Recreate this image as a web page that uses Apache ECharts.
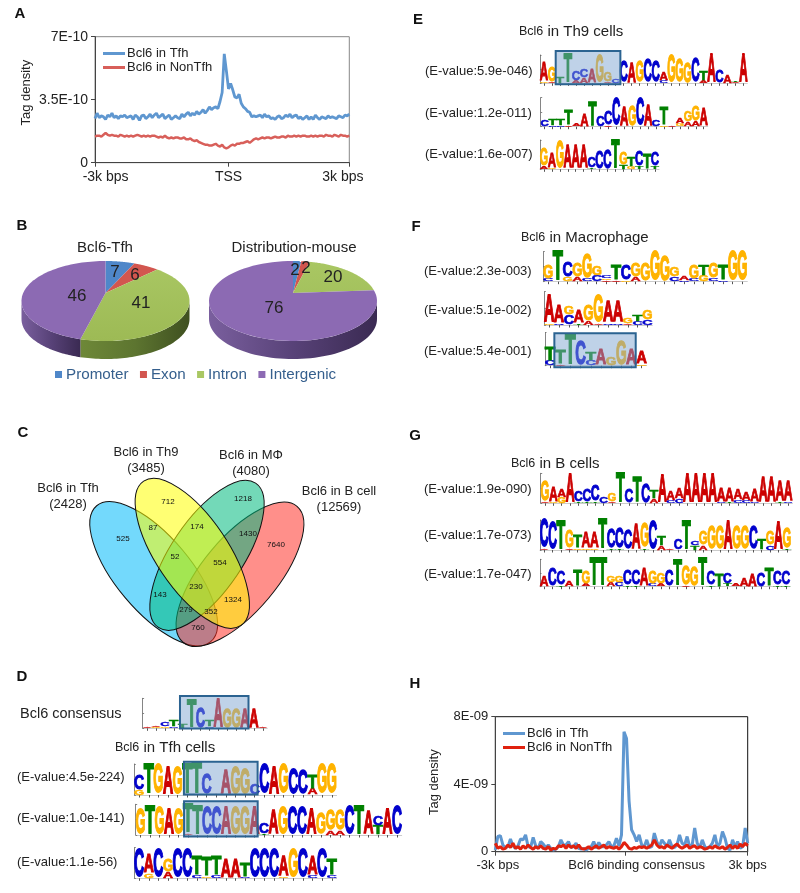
<!DOCTYPE html>
<html><head><meta charset="utf-8">
<style>html,body{margin:0;padding:0;background:#fff}#c{width:800px;height:893px}</style>
<script src="https://cdn.jsdelivr.net/npm/echarts@6/dist/echarts.min.js"></script></head>
<body><div id="c"></div>
<script>
// ---------- data ----------
const tfhA=[2.45,2.75,2.5,2.6,2.55,2.4,2.65,2.55,2.75,2.5,2.6,2.45,2.6,2.55,2.65,2.5,2.55,2.6,2.4,2.65,2.55,2.35,2.6,2.65,2.45,2.55,2.7,2.5,2.65,2.75,2.5,2.6,2.7,2.45,2.55,2.65,2.4,2.5,2.6,2.5,2.45,2.7,2.55,2.7,2.8,2.6,2.75,2.65,2.85,2.7,2.8,2.95,2.75,2.9,3.1,2.95,3.05,3.1,3.0,3.4,3.9,6.05,5.1,4.1,4.4,4.05,3.65,3.6,3.8,3.3,3.1,3.0,2.85,2.8,2.55,2.6,2.55,2.6,2.65,2.5,2.7,2.55,2.6,2.45,2.5,2.4,2.55,2.6,2.45,2.5,2.65,2.55,2.7,2.5,2.6,2.65,2.45,2.55,2.4,2.5,2.6,2.4,2.55,2.4,2.65,2.5,2.4,2.55,2.5,2.45,2.6,2.5,2.55,2.5,2.45,2.6,2.55,2.5,2.65,2.6,2.7];
const nonA=[1.45,1.5,1.5,1.45,1.55,1.65,1.55,1.5,1.55,1.5,1.5,1.45,1.55,1.5,1.45,1.5,1.45,1.5,1.45,1.5,1.55,1.5,1.45,1.5,1.45,1.5,1.45,1.5,1.5,1.45,1.4,1.45,1.4,1.5,1.4,1.35,1.4,1.35,1.4,1.4,1.35,1.35,1.4,1.3,1.3,1.35,1.25,1.2,1.25,1.15,1.1,1.05,1.0,1.0,0.95,0.95,1.0,1.05,0.95,0.9,1.0,0.85,0.8,0.85,0.95,1.0,0.95,1.05,1.05,1.1,1.1,1.15,1.2,1.1,1.2,1.3,1.35,1.3,1.35,1.4,1.35,1.4,1.4,1.35,1.4,1.45,1.4,1.4,1.45,1.45,1.4,1.5,1.45,1.45,1.5,1.45,1.5,1.45,1.5,1.5,1.45,1.45,1.5,1.45,1.5,1.45,1.5,1.5,1.45,1.55,1.5,1.5,1.45,1.55,1.5,1.45,1.55,1.5,1.5,1.45,1.5];
const tfhH=[.1,.9,.95,.4,.25,.3,.75,.35,.2,.35,.75,.7,1.0,.3,.25,.85,.35,.2,.6,.45,.25,.4,.2,.1,.15,.3,.7,.4,.4,.6,.25,.3,.5,.2,.15,.2,.1,.2,.3,.6,.2,.55,.3,.3,.4,.6,.3,.35,.8,.35,1.0,7.1,6.7,3.0,1.3,1.0,.6,1.0,.4,.3,.7,.25,.3,1.1,.6,.3,.7,.5,.3,.7,.3,.25,.4,1.0,.5,.4,.9,.3,.4,1.4,.5,.25,.7,.3,.2,.3,.5,1.0,.3,.5,1.2,.8,.2,.1,.7,.3,.6,.2,.3,1.4,.5];
const nonH=[.5,.2,.3,.15,.2,.4,.25,.5,.2,.3,.15,.35,.2,.4,.25,.15,.3,.2,.35,.2,.15,.3,.1,.2,.15,.35,.3,.4,.2,.4,.25,.35,.2,.4,.2,.15,.2,.3,.15,.25,.35,.2,.3,.4,.2,.3,.25,.2,.3,.15,.3,.55,.4,.2,.15,.25,.2,.3,.25,.3,.2,.3,.4,.7,.4,.25,.3,.2,.4,.3,.2,.35,.45,.3,.2,.3,.4,.2,.3,.35,.2,.3,.25,.15,.2,.3,.2,.35,.25,.2,.3,.15,.25,.4,.2,.35,.2,.45,.3,.5,.35];
const seriesNames=['Bcl6 in Tfh','Bcl6 in NonTfh'];
const pieCategories=['Promoter','Exon','Intron','Intergenic'];
const pieTfh=[7,6,41,46];
const pieMouse=[2,2,20,76];
const vennSets=[['Bcl6 in Tfh','(2428)'],['Bcl6 in Th9','(3485)'],['Bcl6 in MΦ','(4080)'],['Bcl6 in B cell','(12569)']];
const vennCounts=[525,87,712,174,1218,1430,7640,52,554,143,230,1324,279,352,760];
// sequence logos: one token per column, letters bottom to top, height in tenths of a bit
const logoConsensus='A1 G1A1 G1C3 C1T4 T3 T18 C14 C1T4 A19 G13 G13 A13 A13 A1';
const logoD1='G3C10 T19 G19 A18 G18 T19 T20 C13 A1 A16 G18 G17 C7 C19 A18 G19 C17 C16 A4T9 G19 G19';
const logoD2='G17 T19 G18 A17 G17 A1T19 T19 C18 C18 A18 G18 G18 A18 T1C7 A16 G18 C18 C18 A17 G14 A3G13 A3G13 C19 T19 A15 T6C6 A17 C19';
const logoD3='C19 G3A12 C19 A4G8 C19 C19 C2T12 G1T12 C2T12 A12 A12 C1T9 C19 C19 C19 G1A13 G19 C19 C2A12 C19 C2T11';
const logoE1='G1A13 A1G11 T5 T20 A2C7 A4C6 A10 G19 A1G7 C3 C15 A14 G15 C16 C15 C2A6 G19 G16 G14 C17 A2T7 A20 C9 A6 A1T1 A20';
const logoE2='C5 C1T5 C1T5 A1T10 A2 A8 T17 C7 A1C9 C19 A13 G14 C19 A15 C5 G1T12 A1 G2A4 A3G7 A4G10 A12';
const logoE3='A2G12 G1A10 G19 A16 A16 A16 T1C7 C12 C13 T20 T3G8 G2T6 T2C10 T10 T2C9';
const logoF1='C2G9 T20 G3C10 A3G9 C2G16 C4G6 A1G1C2 A1T10 G1C10 A3G9 G12 G20 G17 C3G6 C1A3 C2G9 G4T7 C2G10 C1T10 G20 G20';
const logoF2='G1A16 C1A11 C6G5 T1A7 A2G10 A1G16 C1A13 C1A13 A1G3 C2T4 C3G6';
const logoF3='C3T8 A1T8 T19 C15 C3T5 A10 G5 G15 A10 G1A7';
const logoG1='A1G14 G1A10 G4A5 A19 T1C7 T1C8 T1C11 C4 A1G5 T20 C9 T17 C13 A3T5 A18 C2A6 C3A7 A19 A19 A19 A19 C1A9 T1A9 C2A7 C2A5 C1A8 A17 A17 T1A14 C1A14';
const logoG2='A1C19 C18 T19 A1G12 G1T8 G1A11 G1A11 T20 T1C13 T1C14 C13 A17 T1G16 C19 A3T6 A1 C7 T19 T3C3 A3G9 G15 G15 A19 G15 G15 C15 T7 C3G9 A18 T1G14';
const logoG3='A8 C13 T1C10 A4 T12 A2G9 T20 T20 A3G5 C3G5 T1C11 T1C11 A13 C2G9 A2G8 C12 T19 A1G14 G14 T20 T1C10 T9 T2C8 A2 A6 A9 C10 T13 T1C10 T1C10';
// [logo, highlight column span, highlight bit span]
const logoRows=[
 {seq:logoConsensus,box:[4.2,11.9,-.02,2.15]},{seq:logoD1,box:[5.15,12.8,.03,2.15]},{seq:logoD2,box:[5.09,12.84,-.1,2.2]},{seq:logoD3},
 {seq:logoE1,box:[1.97,10.08,-.07,2.28]},{seq:logoE2},{seq:logoE3},
 {seq:logoF1},{seq:logoF2},{seq:logoF3,box:[.92,8.92,-.1,1.96]},
 {seq:logoG1},{seq:logoG2},{seq:logoG3}];
const evalueGroups=[
 ['(E-value:4.5e-224)','(E-value:1.0e-141)','(E-value:1.1e-56)'],
 ['(E-value:5.9e-046)','(E-value:1.2e-011)','(E-value:1.6e-007)'],
 ['(E-value:2.3e-003)','(E-value:5.1e-002)','(E-value:5.4e-001)'],
 ['(E-value:1.9e-090)','(E-value:1.7e-073)','(E-value:1.7e-047)']];

// ---------- layout ----------
const FF='"Liberation Sans"';
const logoBoxes=[[142.6,698.3,124.6,30,8.6],[134.3,764,202.3,31,1],[135.7,804.3,266,30.7,1],[134.3,847.7,202.3,30.6,1],
 [540,55,207.3,28.3,2.5],[540.7,97.7,167,29,2.5],[540,140,119,29.3,2.5],
 [543.3,251.7,204,30,1],[544.3,291.7,108,33.3,1],[545,332.7,101.7,33,1],
 [540.7,473.3,251.7,30,1.5],[540,520,251,30,1.5],[540,559.3,250,27.4,1.5]];
const letterColor={A:'#cc0000',C:'#0000cc',G:'#ffb300',T:'#008000'};
const letterWidth={A:.722,C:.722,G:.778,T:.611};
const pieColors=[['#4f87c9','#4f87c9','#3a6699'],['#d2564f','#d2564f','#9a3d39'],['#a9c763','#9dba55','#4e6328'],['#8c6ab3','#8c6ab3','#47355f']];

const grid=[],xAxis=[],yAxis=[],series=[],graphic=[];
function txt(text,x,y,size,opt){opt=opt||{};graphic.push({type:'text',x:x,y:y,z:100,silent:true,rotation:opt.rot||0,style:{text:text,font:(opt.bold?'bold ':'')+size+'px '+FF,fill:opt.color||'#222',align:opt.align||'center',textAlign:opt.align||'center',verticalAlign:'middle',textVerticalAlign:'middle'}});}

// ---------- A and H line panels ----------
function linePanel(idx,box,ymax,yInt,yFmt,labelSize,xMax,tick,labPos,labNames,nameGap,namePad,colors,widths,d1,d2,gridColor){
 grid.push({left:box[0],top:box[1],width:box[2],height:box[3],show:true,borderColor:gridColor,borderWidth:1,backgroundColor:'transparent'});
 xAxis.push({type:'value',gridIndex:idx,min:0,max:xMax,splitLine:{show:false},
  axisLine:{onZero:false,lineStyle:{color:'#444'}},
  axisTick:{show:true,length:4,customValues:[0,tick,xMax],lineStyle:{color:'#444'}},
  axisLabel:{customValues:labPos,color:'#222',fontSize:labelSize,fontFamily:FF,margin:7,hideOverlap:false,showMinLabel:true,showMaxLabel:true,formatter:function(v){return labNames[labPos.indexOf(v)]||'';}}});
 yAxis.push({type:'value',gridIndex:idx,min:0,max:ymax,interval:yInt,splitLine:{show:false},
  axisLine:{show:true,lineStyle:{color:'#444'}},axisTick:{show:true,length:4,lineStyle:{color:'#444'}},
  axisLabel:{color:'#222',fontSize:labelSize,fontFamily:FF,margin:7,formatter:yFmt},
  name:'Tag density',nameLocation:'middle',nameRotate:90,nameGap:nameGap,nameTextStyle:{color:'#222',fontSize:13,fontFamily:FF,padding:[0,0,0,namePad]}});
 [d1,d2].forEach(function(d,k){series.push({type:'line',name:seriesNames[k],xAxisIndex:idx,yAxisIndex:idx,showSymbol:false,silent:true,z:3+k,
  data:d.map(function(v,i){return [i,v];}),lineStyle:{color:colors[k],width:widths[k]},itemStyle:{color:colors[k]}});});
}
linePanel(0,[95,36.7,254.3,126],7,3.5,function(v){return v===0?'0':v+'E-10';},14,120,63,[5,63,117],['-3k bps','TSS','3k bps'],62,14,['#5f97d0','#d85f5a'],[2.8,2.5],tfhA,nonA,'#888');
linePanel(1,[495.3,716.7,252.4,135],8,4,function(v){return v===0?'0':v+'E-09';},13,100,51.5,[1,56,100],['-3k bps','Bcl6 binding consensus','3k bps'],54,4,['#5f97d0','#e0210f'],[3,3],tfhH,nonH,'#111');
function lineLegend(left,top,colors){return {left:left,top:top,orient:'vertical',icon:'rect',itemWidth:22,itemHeight:3,itemGap:1,selectedMode:false,padding:0,textStyle:{color:'#222',fontSize:13,fontFamily:FF,padding:[0,0,0,-3]},
 data:seriesNames.map(function(n,i){return {name:n,itemStyle:{color:colors[i]}};})};}

// ---------- logos ----------
function parseColumn(tok){const out=[];tok.replace(/([ACGT])(\d+)/g,function(m,l,h){out.push([l,+h/10]);return m;});return out;}
logoRows.forEach(function(row,n){
 const b=logoBoxes[n],g=grid.length,cols=row.seq.split(' '),N=cols.length,rects=[];
 cols.forEach(function(tok,i){let y=0;parseColumn(tok).forEach(function(p){rects.push({col:i,y0:y,y1:y+p[1],l:p[0]});y+=p[1];});});
 grid.push({left:b[0],top:b[1],width:b[2],height:b[3]});
 xAxis.push({type:'value',gridIndex:g,min:0,max:N,splitLine:{show:false},axisLabel:{show:false},
  axisLine:{show:true,onZero:false,lineStyle:{color:'#aaa',width:.6}},
  axisTick:{show:true,length:2.5,customValues:cols.map(function(_,i){return i+.5;}),lineStyle:{color:'#555',width:1}}});
 yAxis.push({type:'value',gridIndex:g,min:0,max:2,interval:1,offset:b[4],splitLine:{show:false},axisLabel:{show:false},
  axisLine:{show:true,lineStyle:{color:'#666',width:.8}},axisTick:{show:true,length:1.5,inside:true,lineStyle:{color:'#666',width:.8}}});
 series.push({type:'custom',name:'logo'+n,xAxisIndex:g,yAxisIndex:g,silent:true,clip:false,z:4,
  data:rects.map(function(r){return [r.col,r.y0,r.y1];}),encode:{x:0,y:[1,2]},
  renderItem:function(p,api){const r=rects[p.dataIndex],a=api.coord([r.col,r.y0]),c=api.coord([r.col+1,r.y1]);
   const w=c[0]-a[0],h=a[1]-c[1],F=40,sy=h/(.688*F+2);
   return {type:'text',x:(a[0]+c[0])/2,y:(a[1]+c[1])/2+.03*F*sy,scaleX:w*1.05/(letterWidth[r.l]*F),scaleY:sy,
    style:{text:r.l,font:'bold '+F+'px '+FF,fill:letterColor[r.l],stroke:letterColor[r.l],lineWidth:2,align:'center',textAlign:'center',verticalAlign:'middle',textVerticalAlign:'middle'}};}});
 if(row.box){const bx=row.box;series.push({type:'custom',name:'box'+n,xAxisIndex:g,yAxisIndex:g,silent:true,clip:false,z:5,
  data:[[bx[0],bx[2],bx[1],bx[3]]],encode:{x:[0,2],y:[1,3]},
  renderItem:function(p,api){const a=api.coord([bx[0],bx[2]]),c=api.coord([bx[1],bx[3]]);
   return {type:'rect',shape:{x:a[0],y:c[1],width:c[0]-a[0],height:a[1]-c[1]},style:{fill:'rgba(128,165,210,.5)',stroke:'#2b6391',lineWidth:2}};}});}
});

// ---------- pies ----------
function pie(cx,vals){
 const cy=301,rx=84,ry=40,depth=18,apexY=293,total=vals.reduce(function(s,v){return s+v;},0);
 const warp=function(f){const a=f/total*2*Math.PI;return a-.21*Math.sin(a);}; // perspective foreshortening of the tilted disc
 let acc=0;
 vals.forEach(function(v,i){
  const a0=warp(acc),a1=warp(acc+v);acc+=v;
  series.push({type:'custom',name:pieCategories[i],coordinateSystem:'none',silent:true,z:6,itemStyle:{color:pieColors[i][0]},data:[[v]],
   renderItem:function(){
    const pt=function(a,d){return [cx+rx*Math.sin(a),cy-ry*Math.cos(a)+(d||0)];},kids=[];
    const s0=Math.max(a0,Math.PI/2),s1=Math.min(a1,Math.PI*1.5);
    if(s1>s0){const top=[],bot=[];for(let k=0;k<=60;k++){const a=s0+(s1-s0)*k/60;top.push(pt(a));bot.unshift(pt(a,depth));}
     const xs=top.map(function(q){return q[0];}),x0=Math.min.apply(null,xs),x1=Math.max.apply(null,xs);
     kids.push({type:'polygon',shape:{points:top.concat(bot)},style:{fill:new echarts.graphic.LinearGradient(x0,0,x1,0,i===3?[{offset:0,color:'#7a5f9e'},{offset:.5,color:'#584278'},{offset:1,color:'#3a2a52'}]:[{offset:0,color:'#6e8838'},{offset:.5,color:'#5d7530'},{offset:1,color:'#3f5020'}],true)}});}
    const poly=[[cx,apexY]];for(let k=0;k<=80;k++)poly.push(pt(a0+(a1-a0)*k/80));
    kids.push({type:'polygon',shape:{points:poly},style:{fill:new echarts.graphic.LinearGradient(cx-rx,cy-ry,cx-rx,cy+ry,[{offset:0,color:pieColors[i][0]},{offset:1,color:pieColors[i][1]}],true)}});
    return {type:'group',children:kids};}});
 });
}
pie(105.5,pieTfh);pie(293,pieMouse);
[[115,272],[135,275],[141,303],[77,296]].forEach(function(p,i){txt(String(pieTfh[i]),p[0],p[1],17);});
[[295,270],[306,268],[333,277],[274,308]].forEach(function(p,i){txt(String(pieMouse[i]),p[0],p[1],17);});
txt('Bcl6-Tfh',105,248,15);txt('Distribution-mouse',294,248,15);
const pieLegend={left:55,top:367,icon:'rect',itemWidth:7,itemHeight:7,itemGap:11.5,selectedMode:false,padding:0,textStyle:{color:'#355f8d',fontSize:15.2,fontFamily:FF,padding:[0,0,0,-1]},data:pieCategories};

// ---------- venn ----------
[[153.7,573.7,37.3,88.7,40,'rgba(0,185,250,.55)'],[240,574.3,37.3,88.7,-40,'rgba(255,40,30,.52)'],[207,555.3,36,87,-34,'rgba(0,185,125,.55)'],[192.3,553.3,36,87,34,'rgba(255,255,0,.55)']].forEach(function(e,i){
 graphic.push({type:'ellipse',x:e[0],y:e[1],rotation:e[4]*Math.PI/180,z:10+i,silent:true,shape:{cx:0,cy:0,rx:e[2],ry:e[3]},style:{fill:e[5],stroke:'#111',lineWidth:1}});});
[[123,539],[153,528],[168,502],[197,527],[243,499],[248,534],[276,545],[175,557],[220,563],[160,595],[196,587],[233,600],[186,610],[211,612],[198,628]].forEach(function(p,i){txt(String(vennCounts[i]),p[0],p[1],8,{color:'#111'});});
[[68,488],[146,452],[251,455],[339,491]].forEach(function(p,i){txt(vennSets[i][0],p[0],p[1],13);txt(vennSets[i][1],p[0],p[1]+16,13);});

// ---------- text ----------
[['A',20,14],['B',22,226],['C',23,433],['D',22,677],['E',418,20],['F',416,227],['G',415,436],['H',415,684]].forEach(function(p){txt(p[0],p[1],p[2],15,{bold:true,color:'#111'});});
txt('Bcl6 consensus',20,714,14.5,{align:'left'});
[[17,[777,818,862]],[425,[71,113,154]],[424,[271,310,351]],[424,[489,535,574]]].forEach(function(g,k){g[1].forEach(function(y,i){txt(evalueGroups[k][i],g[0],y,13,{align:'left'});});});
[[115,748,' in Tfh cells'],[519,32,' in Th9 cells'],[521,238,' in Macrophage'],[511,464,' in B cells']].forEach(function(t){
 graphic.push({type:'text',x:t[0],y:t[1],z:100,silent:true,style:{text:'{a|Bcl6}{b|'+t[2]+'}',align:'left',textAlign:'left',verticalAlign:'middle',textVerticalAlign:'middle',rich:{a:{font:'12.5px '+FF,fill:'#222',color:'#222'},b:{font:'15px '+FF,fill:'#222',color:'#222'}}}});});

const chart=echarts.init(document.getElementById('c'),null,{renderer:'canvas'});
chart.setOption({animation:false,backgroundColor:'#fff',tooltip:{show:false},grid:grid,xAxis:xAxis,yAxis:yAxis,series:series,
 legend:[lineLegend(103,47,['#5f97d0','#d85f5a']),lineLegend(503,727,['#5f97d0','#e0210f']),pieLegend],
 graphic:{elements:graphic}});
</script></body></html>
